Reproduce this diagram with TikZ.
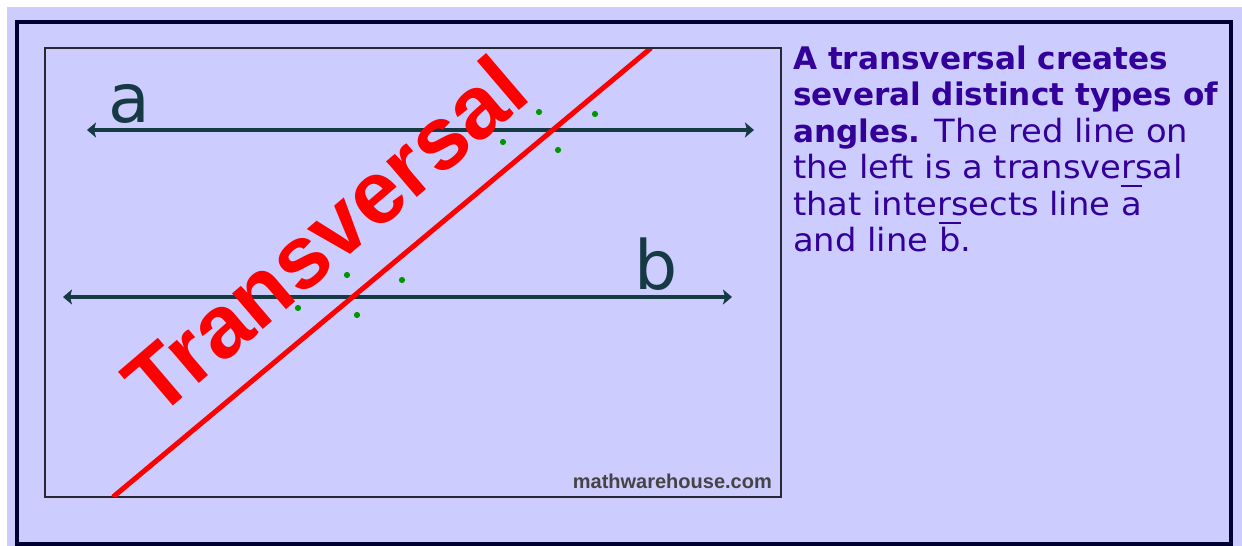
\documentclass[tikz,border=0pt]{standalone}
\usepackage{fontspec}
\setmainfont{DejaVu Sans}
\newfontfamily\widefont{DejaVu Sans}[FakeStretch=1.055]
\newfontfamily\arialf{Liberation Sans}
\usetikzlibrary{arrows.meta}
\definecolor{bgc}{RGB}{204,204,255}
\definecolor{framec}{RGB}{0,0,51}
\definecolor{linec}{RGB}{22,58,68}
\definecolor{txtc}{RGB}{51,0,153}
\definecolor{dotc}{RGB}{0,150,0}
\definecolor{wmc}{RGB}{68,68,68}
\definecolor{boxc}{RGB}{40,40,50}
\newcommand\ovbar[1]{\leavevmode\setbox0\hbox{#1}\rlap{\rule[28pt]{\wd0}{2pt}}\box0}
\newcommand\regfont{\widefont\fontsize{32}{36}\selectfont}
\newcommand\boldfont{\rmfamily\fontsize{31.1}{36}\selectfont\bfseries}
\begin{document}
\begin{tikzpicture}[x=1pt,y=-1pt,
  hline/.style={linec, line width=4.5pt, {Stealth[length=9pt,width=15pt,inset=2pt]}-{Stealth[length=9pt,width=15pt,inset=2pt]}},
  redline/.style={red, line width=5pt},
  dotn/.style={circle, fill=dotc, inner sep=0pt, minimum size=6.2pt},
  lbl/.style={anchor=base west, inner sep=0pt, text=linec, font=\fontsize{68}{68}\selectfont},
  rtext/.style={anchor=base west, inner sep=0pt, text=txtc, font=\regfont},
  innerbox/.style={draw=boxc, line width=2pt}]
\useasboundingbox (0,0) rectangle (1242,546);
\fill[white] (0,0) rectangle (1242,546);
\fill[bgc] (7,7) rectangle (1242,546);
\draw[framec, line width=4pt] (17,21.5) rectangle (1231,544);
\draw[innerbox] (44.5,48) rectangle (780.5,497);
% parallel lines
\coordinate (aL) at (87,130);
\coordinate (aR) at (754,130);
\coordinate (bL) at (63,297);
\coordinate (bR) at (732,297);
\draw[hline] (aL) -- (aR);
\draw[hline] (bL) -- (bR);
\node[lbl] (la) at (108,122) {a};
\node[lbl] (lb) at (634,289) {b};
% transversal label
\node[anchor=base west, rotate=40.5, inner sep=0pt, text=red,
  font=\arialf\bfseries\fontsize{89}{89}\selectfont] (tv) at (157,420) {Transversal};
% transversal line
\coordinate (rB) at (113,497);
\coordinate (rT) at (651,48);
\begin{scope}
\clip (45.5,49) rectangle (779.5,496);
\draw[redline] (rB) -- (rT);
\end{scope}
% angle dots
\node[dotn] (d1) at (539,112) {};
\node[dotn] (d2) at (595,114) {};
\node[dotn] (d3) at (503,142) {};
\node[dotn] (d4) at (558,150) {};
\node[dotn] (d5) at (347,275) {};
\node[dotn] (d6) at (402,280) {};
\node[dotn] (d7) at (298,308) {};
\node[dotn] (d8) at (357,315) {};
% watermark
\node[anchor=base east, inner sep=0pt, text=wmc, font=\arialf\bfseries\fontsize{20}{20}\selectfont] (wm) at (772,488) {mathwarehouse.com};
% description text
\node[rtext] (t1) at (793,69) {\boldfont A transversal creates};
\node[rtext] (t2) at (793,105.5) {\boldfont several distinct types of};
\node[rtext] (t3) at (793,142) {{\boldfont angles.} The red line on};
\node[rtext] (t4) at (793,178.5) {the left is a transversal};
\node[rtext] (t5) at (793,215) {that intersects line \ovbar{a}};
\node[rtext] (t6) at (793,251.5) {and line \ovbar{b}.};
\end{tikzpicture}
\end{document}
